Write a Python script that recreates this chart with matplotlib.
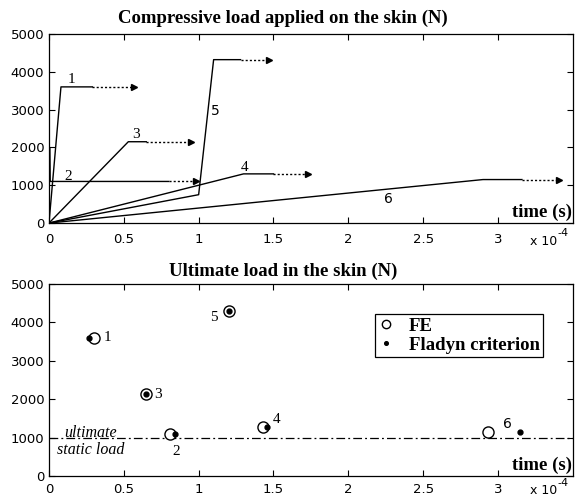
import matplotlib
matplotlib.use('Agg')
import matplotlib.pyplot as plt

# time in units of 1e-4 s, load in N
# top panel: ramp curves (solid part) and dotted continuation
curve_ids = ['1', '2', '3', '4', '5', '6']
curve_t = [[0, 0.08, 0.29], [0, 0.004, 0.008, 0.80], [0, 0.53, 0.65],
           [0, 1.30, 1.50], [0, 1.00, 1.10, 1.28], [0, 2.90, 3.16]]
curve_f = [[0, 3600, 3600], [0, 2000, 1100, 1100], [0, 2150, 2150],
           [0, 1300, 1300], [0, 750, 4320, 4320], [0, 1150, 1150]]
arrow_end = [0.57, 0.98, 0.95, 1.73, 1.47, 3.41]
curve_lbl_t = [0.15, 0.13, 0.58, 1.31, 1.11, 2.27]
curve_lbl_f = [3800, 1240, 2350, 1460, 2960, 630]

# bottom panel: ultimate load
fe_t = [0.30, 0.81, 0.65, 1.43, 1.20, 2.93]
fe_f = [3580, 1100, 2130, 1280, 4300, 1150]
fl_t = [0.27, 0.84, 0.65, 1.46, 1.20, 3.15]
fl_f = [3600, 1100, 2130, 1280, 4300, 1150]
pt_lbl_t = [0.39, 0.85, 0.73, 1.52, 1.10, 3.06]
pt_lbl_f = [3600, 630, 2130, 1480, 4120, 1360]
static_load = 1000

serif = 'Liberation Serif'
sans = 'DejaVu Sans'

fig = plt.figure(figsize=(5.75, 4.99), dpi=100)
ax1 = fig.add_axes([0.0852, 0.553, 0.911, 0.379])
ax2 = fig.add_axes([0.0852, 0.046, 0.911, 0.385])

for ax, ysc in ((ax1, 1.0), (ax2, 0.75)):
    ax.set_xlim(0, 3.5)
    ax.set_ylim(0, 5000)
    ax.set_xticks([0, 0.5, 1, 1.5, 2, 2.5, 3])
    ax.set_xticklabels(['0', '0.5', '1', '1.5', '2', '2.5', '3'])
    ax.set_yticks([0, 1000, 2000, 3000, 4000, 5000])
    ax.tick_params(direction='in', top=True, right=True, length=4, width=0.8,
                   labelsize=9.5)
    ax.tick_params(axis='x', pad=7 * ysc)
    for lab in ax.get_xticklabels() + ax.get_yticklabels():
        lab.set_family(sans)
    for s in ax.spines.values():
        s.set_linewidth(0.9)
    ax.text(0.998, 0.055, 'time (s)', transform=ax.transAxes, ha='right',
            va='center', family=serif, fontweight='bold', fontsize=13.5)
    ax.text(0.970, -0.100 * ysc, 'x 10', transform=ax.transAxes, ha='right',
            va='center', family=sans, fontsize=9)
    ax.text(0.970, -0.050 * ysc, '-4', transform=ax.transAxes, ha='left',
            va='center', family=sans, fontsize=8)

# top panel
for i, cid in enumerate(curve_ids):
    ax1.plot(curve_t[i], curve_f[i], color='black', lw=1)
    ax1.plot([curve_t[i][-1], arrow_end[i]], [curve_f[i][-1]] * 2, color='black',
             lw=1, ls=(0, (1.5, 1.5)))
    ax1.plot(arrow_end[i], curve_f[i][-1], marker='>', color='black', ms=4.5)
    if cid in ('5', '6'):
        fam, fs = sans, 10
    else:
        fam, fs = serif, 11
    ax1.text(curve_lbl_t[i], curve_lbl_f[i], cid, ha='center', va='center',
             family=fam, fontsize=fs)
ax1.set_title('Compressive load applied on the skin (N)', family=serif,
              fontweight='bold', fontsize=13.5, x=0.447, pad=8)

# bottom panel
ax2.axhline(static_load, color='black', lw=0.9, ls=(0, (7, 2.5, 1.5, 2.5)))
ax2.plot(fe_t, fe_f, 'o', mfc='white', mec='black', ms=8, mew=1, label='FE')
ax2.plot(fl_t, fl_f, '.', color='black', ms=7, label='Fladyn criterion')
for i, cid in enumerate(curve_ids):
    if cid == '6':
        fam, fs = sans, 10
    else:
        fam, fs = serif, 11
    ax2.text(pt_lbl_t[i], pt_lbl_f[i], cid, ha='center', va='center',
             family=fam, fontsize=fs)
ax2.text(0.28, 1130, 'ultimate', ha='center', va='center', family=serif,
         style='italic', fontsize=11.5)
ax2.text(0.28, 680, 'static load', ha='center', va='center', family=serif,
         style='italic', fontsize=11.5)
leg = ax2.legend(loc='upper left', bbox_to_anchor=(0.622, 0.845), frameon=True,
                 fancybox=False, edgecolor='black', framealpha=1,
                 prop={'family': serif, 'weight': 'bold', 'size': 13.5},
                 handlelength=0.8, handletextpad=0.8, borderpad=0.2,
                 labelspacing=0.1, borderaxespad=0, markerscale=0.75)
leg.get_frame().set_linewidth(0.9)
ax2.set_title('Ultimate load in the skin (N)', family=serif, fontweight='bold',
              fontsize=13.5, x=0.447, pad=6)

fig.savefig('out.png', dpi=100)
